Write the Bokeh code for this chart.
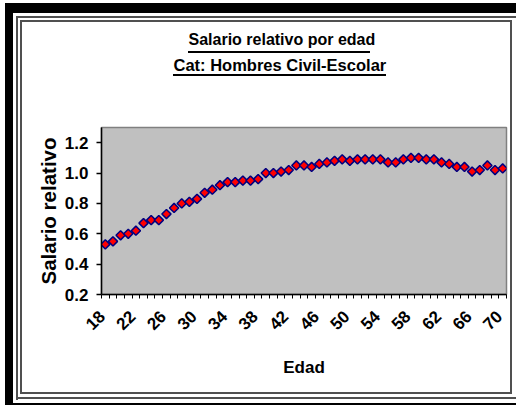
import math
from bokeh.plotting import figure
from bokeh.models import FixedTicker, PrintfTickFormatter, Range1d, Title, InlineStyleSheet
from bokeh.embed import file_html
from bokeh.resources import INLINE

# ---- data ----
ages = list(range(18, 71))
salario_relativo = [
    0.53, 0.55, 0.59, 0.60, 0.62, 0.67, 0.69, 0.69, 0.73, 0.77,
    0.80, 0.81, 0.83, 0.87, 0.89, 0.92, 0.94, 0.94, 0.95, 0.95,
    0.96, 1.00, 1.00, 1.01, 1.02, 1.05, 1.05, 1.04, 1.06, 1.07,
    1.08, 1.09, 1.08, 1.09, 1.09, 1.09, 1.09, 1.07, 1.07, 1.09,
    1.10, 1.10, 1.09, 1.09, 1.07, 1.06, 1.04, 1.04, 1.01, 1.02,
    1.05, 1.02, 1.03,
]
y_ticks = [0.2, 0.4, 0.6, 0.8, 1.0, 1.2]
label_step = 4
title_1 = "Salario relativo por edad"
title_2 = "Cat: Hombres Civil-Escolar"
x_title = "Edad"
y_title = "Salario relativo"

FONT = "Liberation Sans"
W, H = 516, 405
LABEL_SHIFT = -0.45   # rotated tick labels sit a little left of their category centre

idx = list(range(len(ages)))

p = figure(width=W, height=H, output_backend="svg", toolbar_location=None,
           x_range=Range1d(-0.5, len(ages) - 0.5), y_range=Range1d(0.2, 1.3),
           min_border_left=101, min_border_right=10, min_border_top=127, min_border_bottom=111)

p.background_fill_color = "#C0C0C0"
p.border_fill_color = None
p.border_fill_alpha = 0
p.outline_line_color = "#808080"
p.outline_line_width = 1.5
p.xgrid.visible = False
p.ygrid.visible = False

# chart-area frame painted as the element background (behind the transparent canvas)
def rect(color, x, y, w, h):
    return f"linear-gradient({color},{color}) {x}px {y}px / {w}px {h}px no-repeat"

LINE = "#505050"
layers = [
    rect("#000", 188, 51, 182, 2),        # underline title 1
    rect("#000", 173, 74, 213, 2),        # underline title 2
    rect("#000", 5, 3, 8, H),             # thick outer border
    rect("#000", 5, 3, W, 10),
    rect("#000", 5, 403, W, 2),
    rect(LINE, 16, 16, 2, 384),           # double line, outer
    rect(LINE, 16, 16, W, 2),
    rect(LINE, 16, 397, W, 2),
    rect(LINE, 20, 20, 2, 374),           # double line, inner
    rect(LINE, 20, 20, 492, 2),
    rect(LINE, 20, 392, 492, 2),
    rect(LINE, 510, 20, 2, 374),
    "#ffffff",
]
p.stylesheets = [InlineStyleSheet(css=":host { background: " + ", ".join(layers) + "; }")]

# titles (a blank spacer keeps them high above the plot area)
spacer = Title(text=" ", standoff=32.7, text_font=FONT, text_font_size="16px")
t2 = Title(text=title_2, align="left", offset=72, standoff=4,
           text_font=FONT, text_font_style="bold", text_font_size="16.5px", text_color="black")
t1 = Title(text=title_1, align="left", offset=87, standoff=7.6,
           text_font=FONT, text_font_style="bold", text_font_size="16px", text_color="black")
p.add_layout(spacer, "above")
p.add_layout(t2, "above")
p.add_layout(t1, "above")

# y axis
ya = p.yaxis[0]
ya.ticker = FixedTicker(ticks=y_ticks)
ya.formatter = PrintfTickFormatter(format="%.1f")
ya.major_tick_out = 5
ya.major_tick_in = 0
ya.minor_tick_line_color = None
ya.axis_line_color = "black"
ya.axis_line_width = 1.5
ya.major_tick_line_width = 1.5
ya.major_label_text_font = FONT
ya.major_label_text_font_style = "bold"
ya.major_label_text_font_size = "17px"
ya.major_label_text_color = "black"
ya.major_label_standoff = 8
ya.axis_label = y_title
ya.axis_label_text_font = FONT
ya.axis_label_text_font_style = "bold"
ya.axis_label_text_font_size = "20.5px"
ya.axis_label_text_color = "black"
ya.axis_label_standoff = 2

# x axis
xa = p.xaxis[0]
lab_idx = [i for i in idx if i % label_step == 0]
lab_pos = [i + LABEL_SHIFT for i in lab_idx]
xa.ticker = FixedTicker(ticks=lab_pos, minor_ticks=[i - 0.5 for i in range(len(ages) + 1)])
xa.major_label_overrides = {pos: str(ages[i]) for pos, i in zip(lab_pos, lab_idx)}
xa.major_tick_line_color = None
xa.minor_tick_out = 4
xa.minor_tick_in = 0
xa.minor_tick_line_color = "black"
xa.minor_tick_line_width = 1
xa.axis_line_color = "black"
xa.axis_line_width = 1.5
xa.major_label_orientation = math.pi / 4
xa.major_label_text_font = FONT
xa.major_label_text_font_style = "bold"
xa.major_label_text_font_size = "17px"
xa.major_label_text_color = "black"
xa.major_label_standoff = 13
xa.axis_label = x_title
xa.axis_label_text_font = FONT
xa.axis_label_text_font_style = "bold"
xa.axis_label_text_font_size = "17px"
xa.axis_label_text_color = "black"
xa.axis_label_standoff = 20

p.scatter(idx, salario_relativo, marker="square", angle=math.pi / 4, size=6.5,
          fill_color="#FF0000", line_color="#000080", line_width=1.5)

open("out.html", "w").write(file_html(p, INLINE))
